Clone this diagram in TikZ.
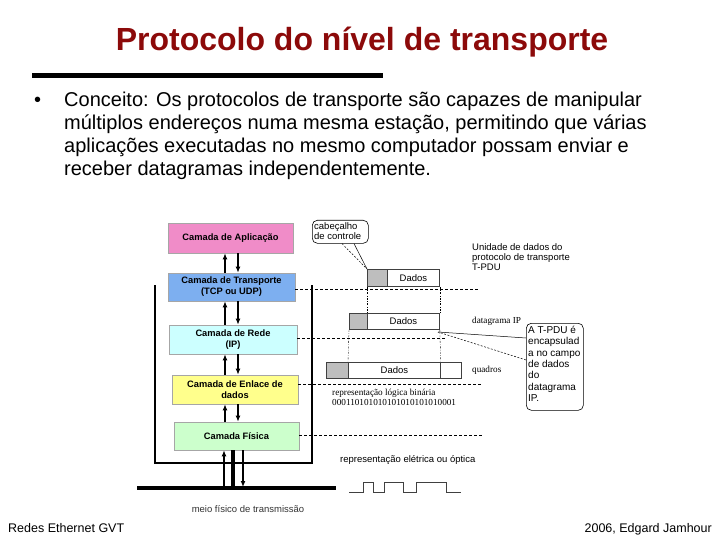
\documentclass[tikz,border=0pt]{standalone}
\usepackage{fontspec}
\setmainfont{Liberation Sans}
\newfontfamily\serifx{Liberation Serif}
\usetikzlibrary{arrows.meta}
\definecolor{titlered}{RGB}{140,10,10}
\definecolor{appcol}{RGB}{240,140,200}
\definecolor{tracol}{RGB}{125,175,240}
\definecolor{redcol}{RGB}{204,255,255}
\definecolor{enlcol}{RGB}{255,255,140}
\definecolor{fiscol}{RGB}{204,255,204}
\definecolor{hdrgray}{RGB}{190,190,190}
\tikzset{
  layer/.style={draw=gray!70, line width=0.6pt, inner sep=0pt, align=center,
    font=\fontsize{9.3}{11}\selectfont\bfseries},
  updown/.style={-{Latex[length=6pt,width=5pt]}, line width=1.3pt},
  dsh/.style={dashed, line width=0.7pt, dash pattern=on 3pt off 2pt},
  dotv/.style={line width=0.4pt, dash pattern=on 2pt off 1.5pt on 0.5pt off 1.5pt},
  pdu/.style={draw=black!75, line width=0.8pt, inner sep=0pt, minimum height=17pt,
    font=\fontsize{9.5}{11}\selectfont},
  small/.style={font=\fontsize{9.5}{10}\selectfont, inner sep=0pt, align=left},
  serifsmall/.style={font=\serifx\fontsize{9.2}{9.5}\selectfont, inner sep=0pt, align=left},
  callout/.style={draw, rounded corners=5pt, line width=0.6pt},
  bullettext/.style={anchor=base west, inner sep=0pt, font=\fontsize{20}{23}\selectfont}
}
\begin{document}
\begin{tikzpicture}[x=1pt,y=-1pt]
\useasboundingbox (0,0) rectangle (720,540);
% title
\node[font=\fontsize{32}{36}\selectfont\bfseries, text=titlered] (title) at (362,42) {Protocolo do nível de transporte};
\draw[line width=5pt] (32,76) -- (383,76);
% bullet text
\node[bullettext] (b) at (34,107) {•};
\node[bullettext] (l1) at (64,107) {Conceito: Os protocolos de transporte são capazes de manipular};
\node[bullettext] (l2) at (64,130) {múltiplos endereços numa mesma estação, permitindo que várias};
\node[bullettext] (l3) at (64,153) {aplicações executadas no mesmo computador possam enviar e};
\node[bullettext] (l4) at (64,176) {receber datagramas independentemente.};

% coordinates for reference columns
\coordinate (ux) at (225,0);
\coordinate (dx) at (238,0);
\coordinate (e1) at (478,0);
\coordinate (e2) at (445,0);
\coordinate (e3) at (482,0);

% layer boxes
\node[layer, fill=appcol, minimum width=125pt, minimum height=30pt] (app) at (230.5,238) {Camada de Aplicação};
\node[layer, fill=tracol, minimum width=127pt, minimum height=28pt] (tra) at (231.5,287) {Camada de Transporte\\(TCP ou UDP)};
\node[layer, fill=redcol, minimum width=128pt, minimum height=29pt] (red) at (233,339.5) {Camada de Rede\\(IP)};
\node[layer, fill=enlcol, minimum width=126pt, minimum height=29pt] (enl) at (235,389.5) {Camada de Enlace de\\dados};
\node[layer, fill=fiscol, minimum width=125pt, minimum height=28pt] (fis) at (236.5,436) {Camada Física};

% dashed level lines
\draw[dsh] (tra.east |- 0,289) -- (e1 |- 0,289);
\draw[dsh] (red.east |- 0,338) -- (e2 |- 0,338);
\draw[dsh] (enl.east |- 0,384) -- (e3 |- 0,384);
\draw[dsh] (fis.east |- 0,435) -- (e3 |- 0,435);

% up/down arrows
\draw[updown] (tra.north -| ux) -- (app.south -| ux);
\draw[updown] (app.south -| dx) -- (tra.north -| dx);
\draw[updown] (red.north -| ux) -- (tra.south -| ux);
\draw[updown] (tra.south -| dx) -- (red.north -| dx);
\draw[updown] (enl.north -| ux) -- (red.south -| ux);
\draw[updown] (red.south -| dx) -- (enl.north -| dx);
\draw[updown] (fis.north -| ux) -- (enl.south -| ux);
\draw[updown] (enl.south -| dx) -- (fis.north -| dx);

% station frame
\coordinate (ftl) at (155,285);
\coordinate (ftr) at (312,285);
\coordinate (fbl) at (155,463);
\coordinate (fbr) at (312,463);
\draw[line width=2pt] (ftl) -- (fbl) -- (fbr) -- (ftr);

% physical medium
\coordinate (cl) at (137,488);
\coordinate (cr) at (336,488);
\draw[line width=4pt] (cl) -- (cr);
\draw[line width=4pt] (fis.south -| 233,0) -- (233,486);
\draw[-{Latex[length=6pt,width=5pt]}, line width=1.2pt] (224,488) -- (fis.south -| 224,0);
\draw[-{Latex[length=6pt,width=5pt]}, line width=1.2pt] (fis.south -| 243,0) -- (243,487);
\node[small, text=black!80] (meio) at (248,509) {meio físico de transmissão};

% T-PDU
\node[pdu, fill=hdrgray, minimum width=20pt, anchor=north west] (th) at (367,269) {};
\node[pdu, minimum width=52pt, anchor=north west] (td) at (387,269) {Dados};
% datagram IP
\node[pdu, fill=hdrgray, minimum width=18pt, minimum height=16pt, anchor=north west] (ih) at (349,313) {};
\node[pdu, minimum width=72pt, minimum height=16pt, anchor=north west] (id) at (367,313) {Dados};
% frame
\node[pdu, fill=hdrgray, minimum width=22pt, minimum height=16pt, anchor=north west] (fh) at (326,362) {};
\node[pdu, minimum width=92pt, minimum height=16pt, anchor=north west] (fd) at (348,362) {Dados};
\node[pdu, minimum width=21pt, minimum height=16pt, anchor=north west] (ft) at (440,362) {};

% encapsulation guide lines
\draw[dotv] (th.south west) -- (id.north west);
\draw[dotv] (td.south east) -- (id.north east);
\draw[dotv] (ih.south west) -- (fd.north west);
\draw[dotv] (id.south east) -- (fd.north east);

% labels
\node[small, anchor=north west] (tpdu) at (472,243) {Unidade de dados do\\protocolo de transporte\\T-PDU};
\node[serifsmall, anchor=west] (dgl) at (472,321) {datagrama IP};
\node[serifsmall, anchor=west] (qdl) at (472,370) {quadros};
\node[serifsmall, anchor=north west] (bin) at (332,389) {representação lógica binária\\000110101010101010101010001};
\node[small, anchor=west] (ele) at (340,460) {representação elétrica ou óptica};

% waveform
\draw[line width=1pt, black!75] (349,492) -- (363,492) -- (363,482) -- (373,482) -- (373,492) -- (384,492) -- (384,482) -- (403,482) -- (403,492) -- (416,492) -- (416,482) -- (446,482) -- (446,492) -- (461,492);

% callout: cabecalho de controle
\node[callout, minimum width=56pt, minimum height=23pt, anchor=north west] (cab) at (312,220) {};
\node[small, font=\fontsize{9.5}{10.5}\selectfont, anchor=north west] (cabt) at (314,222) {cabeçalho\\de controle};
\draw[line width=0.5pt] (cab.south -| 354,0) -- (th.north west);
\draw[line width=0.5pt, dashed, dash pattern=on 2pt off 1.5pt] (cab.south -| 342,0) -- (th.north west);

% callout: A T-PDU e encapsulada
\node[callout, minimum width=57pt, minimum height=87pt, anchor=north west] (enc) at (526,323) {};
\node[small, font=\fontsize{10}{11.3}\selectfont, anchor=north west] (enct) at (528,326) {A T-PDU é\\encapsulad\\a no campo\\de dados\\do\\datagrama\\IP.};
\coordinate (tip) at (438,332);
\draw[line width=0.5pt] (enc.west |- 0,338) -- (tip);
\draw[line width=0.5pt, dashed, dash pattern=on 2pt off 1.5pt] (enc.west |- 0,360) -- (tip);

% footer
\node[anchor=base west, inner sep=0pt, font=\fontsize{12.5}{14}\selectfont] (f1) at (8,532) {Redes Ethernet GVT};
\node[anchor=base east, inner sep=0pt, font=\fontsize{12.5}{14}\selectfont] (f2) at (712,532) {2006, Edgard Jamhour};
\end{tikzpicture}
\end{document}
